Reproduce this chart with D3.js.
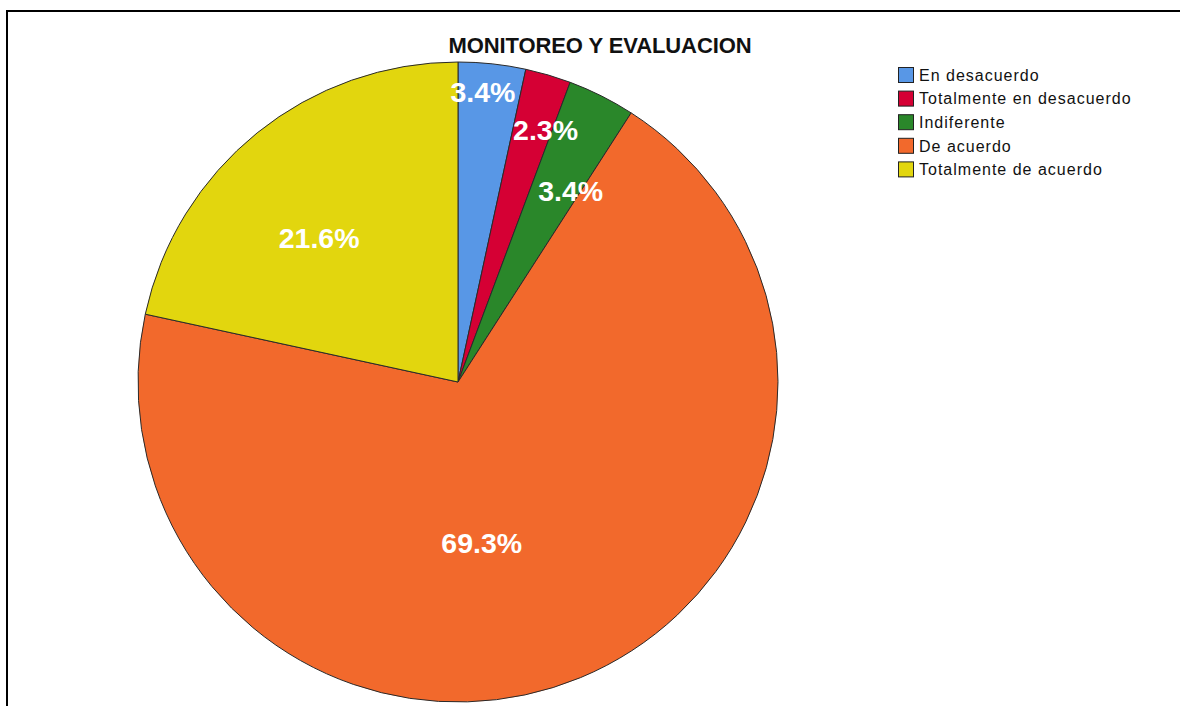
<!DOCTYPE html>
<html><head><meta charset="utf-8">
<script src="https://cdn.jsdelivr.net/npm/d3@7"></script>
<style>html,body{margin:0;padding:0;background:#fff;}svg{display:block;}</style>
</head><body>
<svg id="chart" width="1180" height="706"></svg>
<script>
// ---- data ----
const categories = ["En desacuerdo", "Totalmente en desacuerdo", "Indiferente", "De acuerdo", "Totalmente de acuerdo"];
const percentages = [3.4, 2.3, 3.4, 69.3, 21.6];
const title = "MONITOREO Y EVALUACION";

// ---- style ----
const colors = ["#5897e6", "#d50034", "#2a872a", "#f2692c", "#e2d60e"];
// label placement (fraction of radius, angular shift in degrees from slice middle)
const labelRadiusFrac = [0.91, 0.835, 0.695, 0.508, 0.625];
const labelAngleShift = [-1.2, 2.75, 3.8, 14.1, -5.1];

const svg = d3.select("#chart");
const W = 1180, H = 706;
const cx = 458, cy = 382, R = 320;

// frame
svg.append("path").attr("d", `M7,${H+5} L7,11 L${W+5},11`)
  .attr("fill", "none").attr("stroke", "#000").attr("stroke-width", 2);

// title
svg.append("text").attr("x", 600).attr("y", 53).attr("text-anchor", "middle")
  .attr("font-family", "Liberation Sans, Arial, sans-serif").attr("font-weight", "bold")
  .attr("font-size", 22).attr("letter-spacing", -0.1).attr("fill", "#111").text(title);

const pie = d3.pie().sort(null).value(d => d)(percentages);
const arc = d3.arc().innerRadius(0).outerRadius(R);
const g = svg.append("g").attr("transform", `translate(${cx},${cy})`);

g.selectAll("path.slice").data(pie).join("path").attr("class", "slice")
  .attr("d", arc).attr("fill", (d, i) => colors[i])
  .attr("stroke", "#2a2a2a").attr("stroke-width", 1);

const fmt = d3.format(".1f");
g.selectAll("text.lbl").data(pie).join("text").attr("class", "lbl")
  .attr("transform", (d, i) => {
    const a = (d.startAngle + d.endAngle) / 2 + labelAngleShift[i] * Math.PI / 180;
    const r = R * labelRadiusFrac[i];
    return `translate(${r * Math.sin(a)},${-r * Math.cos(a)})`;
  })
  .attr("text-anchor", "middle").attr("dy", "0.36em")
  .attr("font-family", "Liberation Sans, Arial, sans-serif").attr("font-weight", "bold")
  .attr("font-size", 28.5).attr("fill", "#fff")
  .text(d => fmt(d.data) + "%");

// legend
const lg = svg.append("g").attr("transform", "translate(898,67)");
const step = 23.6;
const items = lg.selectAll("g").data(categories).join("g")
  .attr("transform", (d, i) => `translate(0,${i * step})`);
items.append("rect").attr("x", 0.5).attr("y", 0.5).attr("width", 15).attr("height", 15)
  .attr("fill", (d, i) => colors[i]).attr("stroke", "#222").attr("stroke-width", 1);
items.append("text").attr("x", 21).attr("y", 8).attr("dy", "0.36em")
  .attr("font-family", "Liberation Sans, Arial, sans-serif").attr("font-size", 16)
  .attr("letter-spacing", 1).attr("fill", "#111").text(d => d);
</script>
</body></html>
